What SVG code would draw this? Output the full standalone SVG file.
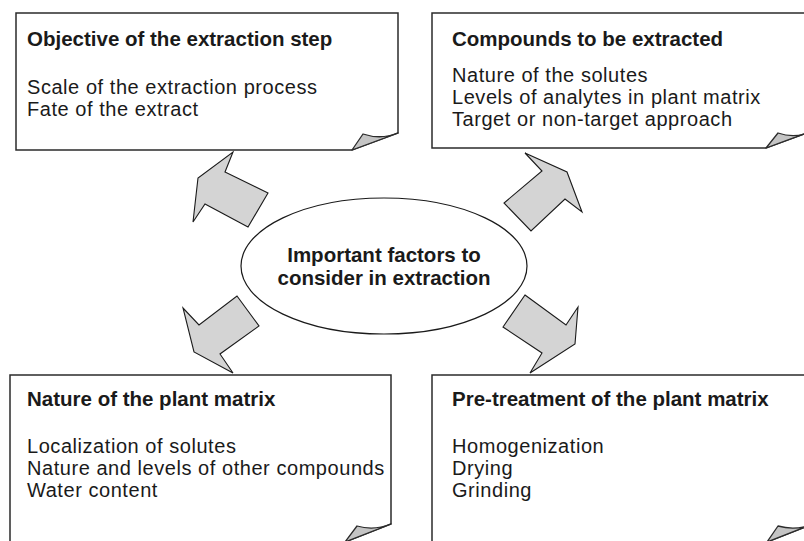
<svg xmlns="http://www.w3.org/2000/svg" width="804" height="541" viewBox="0 0 804 541">
<style>
.box{fill:#fff;stroke:#2b2b2b;stroke-width:1.5;stroke-linejoin:miter}
.curl{fill:#c4c4c4;stroke:#2b2b2b;stroke-width:1.3;stroke-linejoin:round}
.arr{fill:#d4d4d4;stroke:#1a1a1a;stroke-width:1.1;stroke-linejoin:miter}
.t{font-family:"Liberation Sans",Arial,sans-serif;font-size:20.5px;font-weight:bold;fill:#1a1a1a}
.b{font-family:"Liberation Sans",Arial,sans-serif;font-size:20px;letter-spacing:0.55px;fill:#1a1a1a}
.c{font-family:"Liberation Sans",Arial,sans-serif;font-size:20.5px;font-weight:bold;fill:#1a1a1a;text-anchor:middle}
</style>
<rect width="804" height="541" fill="#fff"/>
<g id="box-objective">
<path class="box" d="M16,13 H398 V133 L352,150 H16 Z"/>
<path class="curl" d="M352,150 L363,134 Q381,140 398,133 Z"/>
<text class="t" x="27" y="46">Objective of the extraction step</text>
<text class="b" x="27" y="94">Scale of the extraction process</text>
<text class="b" x="27" y="116">Fate of the extract</text>
</g>
<g id="box-compounds">
<path class="box" d="M432,13 H812 V131 L766,148 H432 Z"/>
<path class="curl" d="M766,148 L778,133 Q796,139 812,131 Z"/>
<text class="t" x="452" y="46">Compounds to be extracted</text>
<text class="b" x="452" y="82">Nature of the solutes</text>
<text class="b" x="452" y="104">Levels of analytes in plant matrix</text>
<text class="b" x="452" y="126">Target or non-target approach</text>
</g>
<g id="box-nature">
<path class="box" d="M10,375 H391 V524 L345,542 H10 Z"/>
<path class="curl" d="M345,542 L357,526 Q374,531 391,524 Z"/>
<text class="t" x="27" y="406">Nature of the plant matrix</text>
<text class="b" x="27" y="453">Localization of solutes</text>
<text class="b" x="27" y="475">Nature and levels of other compounds</text>
<text class="b" x="27" y="497">Water content</text>
</g>
<g id="box-pretreatment">
<path class="box" d="M432,375 H813 V524 L767,542 H432 Z"/>
<path class="curl" d="M767,542 L778,526 Q796,531 813,524 Z"/>
<text class="t" x="452" y="406">Pre-treatment of the plant matrix</text>
<text class="b" x="452" y="453">Homogenization</text>
<text class="b" x="452" y="475">Drying</text>
<text class="b" x="452" y="497">Grinding</text>
</g>
<g id="center">
<ellipse cx="384" cy="266" rx="143" ry="68" fill="#fff" stroke="#1a1a1a" stroke-width="1.2"/>
<text class="c" x="384" y="262">Important factors to</text>
<text class="c" x="384" y="285">consider in extraction</text>
</g>
<g id="connectors">
<polygon class="arr" points="233,152 225,172 268,193 248,227 205,204 193,222 198,178"/>
<polygon class="arr" points="525,153 542,171 504,203 531,231 565,199 582,212 567,172"/>
<polygon class="arr" points="237,296 259,326 220,354 233,373 194,352 183,308 199,325"/>
<polygon class="arr" points="525,295 566,325 578,307 575,344 530,373 542,353 503,327"/>
</g>
</svg>
